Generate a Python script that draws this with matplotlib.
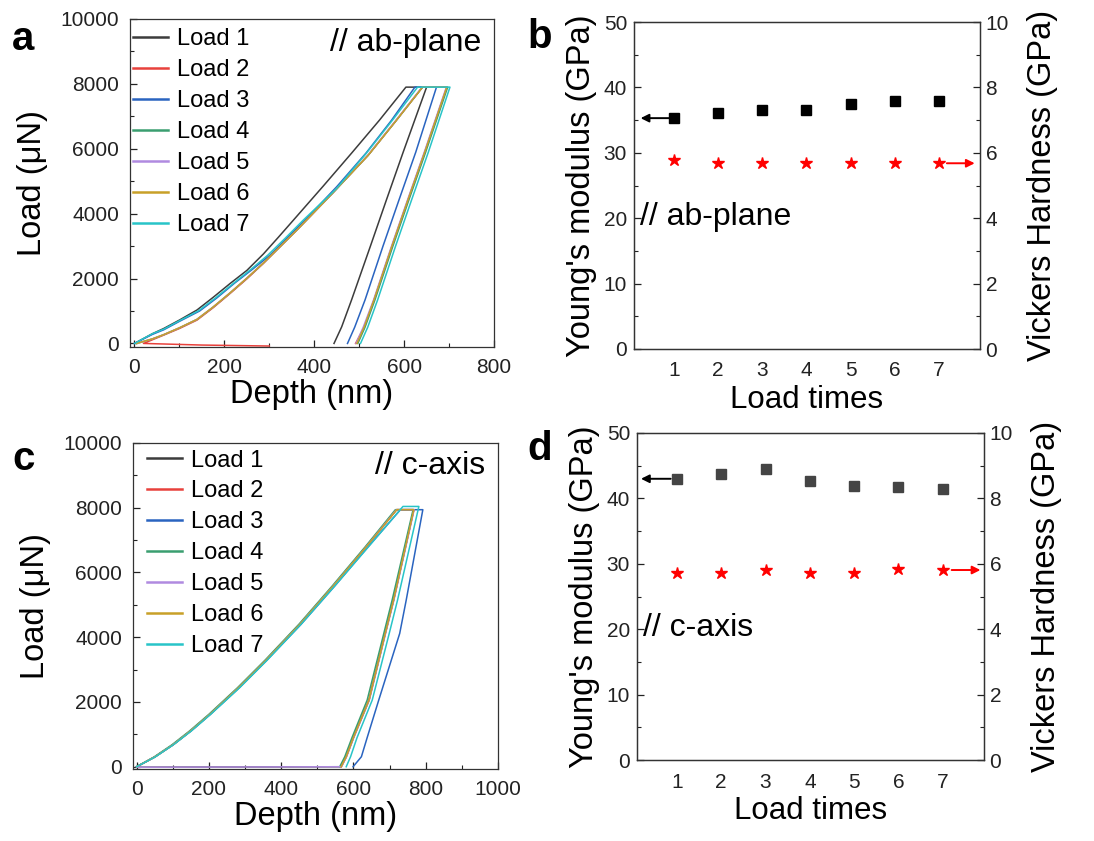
import matplotlib
matplotlib.use("Agg")
import matplotlib.pyplot as plt
from matplotlib.ticker import MultipleLocator

plt.rcParams["font.family"] = ["Liberation Sans", "DejaVu Sans"]
plt.rcParams["axes.linewidth"] = 0.9

W, H = 1094, 841

LOAD_LABELS = ["Load 1", "Load 2", "Load 3", "Load 4", "Load 5", "Load 6", "Load 7"]
LOAD_COLORS = ["#3c3c3c", "#e8413c", "#2a64c0", "#3a9e70", "#b08ae0", "#c8a028", "#28c4c8"]

# load-depth curves, indentation parallel to the ab-plane (nm, uN):
# loading branch, hold at peak load, unloading branch
ab_depth = [
    [0, 20, 40, 65, 100, 139, 175, 213, 250, 287, 320, 354, 420, 483, 545, 604,
     650, 598, 560, 525, 483, 461, 444],
    [300, 150, 20, 65, 100, 139, 175, 213, 250, 287, 361, 440, 520, 580, 641,
     695, 646, 608, 573, 533, 511, 492],
    [0, 20, 40, 65, 100, 145, 183, 222, 262, 302, 340, 380, 450, 515, 572, 624,
     672, 626, 588, 553, 513, 490, 474],
    [5, 40, 65, 100, 139, 175, 213, 250, 287, 361, 440, 520, 580, 641,
     697, 648, 610, 575, 535, 513, 497],
    [5, 40, 65, 100, 139, 175, 213, 250, 287, 361, 440, 519, 579, 640,
     694, 645, 607, 572, 532, 509, 493],
    [5, 40, 65, 100, 139, 175, 213, 250, 287, 361, 440, 520, 580, 641,
     695, 646, 608, 573, 533, 511, 495],
    [0, 20, 40, 65, 100, 143, 181, 220, 258, 297, 336, 376, 450, 516, 574, 630,
     702, 654, 616, 581, 541, 519, 503],
]
ab_load = [
    [0, 150, 300, 460, 720, 1030, 1420, 1850, 2250, 2760, 3270, 3806, 4850, 5864, 6880, 7900,
     7900, 5900, 4400, 3000, 1340, 510, 0],
    [-80, -50, 0, 256, 460, 719, 1100, 1543, 1990, 2469, 3490, 4620, 5800, 6830, 7900,
     7900, 5900, 4400, 3000, 1340, 500, 0],
    [0, 140, 280, 420, 680, 1000, 1400, 1850, 2280, 2725, 3250, 3806, 4830, 5864, 6880, 7900,
     7900, 5900, 4400, 3000, 1340, 500, 0],
    [0, 140, 270, 480, 740, 1120, 1560, 2010, 2480, 3490, 4620, 5800, 6830, 7900,
     7900, 5900, 4400, 3000, 1340, 500, 0],
    [0, 140, 270, 480, 740, 1120, 1560, 2010, 2480, 3490, 4620, 5800, 6830, 7900,
     7900, 5900, 4400, 3000, 1340, 500, 0],
    [0, 140, 270, 480, 740, 1120, 1560, 2010, 2480, 3490, 4620, 5800, 6830, 7900,
     7900, 5900, 4400, 3000, 1340, 500, 0],
    [0, 150, 300, 440, 700, 1010, 1410, 1850, 2270, 2725, 3250, 3806, 4780, 5864, 6880, 7900,
     7900, 5900, 4400, 3000, 1340, 500, 0],
]

# load-depth curves, indentation along the c-axis
c_depth = [
    [0, 50, 101, 150, 203, 282, 359, 452, 544, 636, 719, 767, 711, 688, 643, 600, 580, 566, 0],
    [0, 50, 101, 150, 203, 282, 359, 452, 544, 636, 719, 767, 711, 688, 643, 600, 580, 566],
    [0, 50, 101, 151, 204, 284, 361, 455, 548, 641, 730, 792, 746, 728, 670, 638, 622, 599],
    [0, 48, 98, 147, 200, 279, 356, 449, 541, 633, 716, 765, 707, 684, 638, 596, 576, 562],
    [0, 50, 101, 150, 203, 282, 359, 452, 544, 636, 719, 768, 712, 689, 644, 601, 581, 567, 0],
    [0, 50, 101, 150, 203, 282, 359, 452, 544, 636, 720, 767, 711, 688, 643, 600, 580, 566],
    [0, 51, 102, 152, 205, 285, 362, 455, 548, 642, 737, 781, 722, 699, 652, 610, 592, 580],
]
c_load = [
    [0, 300, 680, 1110, 1620, 2440, 3300, 4400, 5580, 6800, 7940, 7940, 5146, 4117, 2059, 900, 309, 0, -15],
    [0, 300, 680, 1110, 1620, 2440, 3300, 4400, 5580, 6800, 7940, 7940, 5146, 4117, 2059, 900, 309, 0],
    [0, 300, 680, 1110, 1620, 2440, 3300, 4400, 5580, 6800, 7940, 7940, 5146, 4117, 2059, 900, 309, 0],
    [0, 300, 680, 1110, 1620, 2440, 3300, 4400, 5580, 6800, 7940, 7940, 5146, 4117, 2059, 900, 309, 0],
    [0, 300, 680, 1110, 1620, 2440, 3300, 4400, 5580, 6800, 7940, 7940, 5146, 4117, 2059, 900, 309, 0, -15],
    [0, 300, 680, 1110, 1620, 2440, 3300, 4400, 5580, 6800, 7940, 7940, 5146, 4117, 2059, 900, 309, 0],
    [0, 300, 680, 1110, 1620, 2440, 3300, 4400, 5580, 6800, 8040, 8040, 5146, 4117, 2059, 900, 309, 0],
]

load_times = [1, 2, 3, 4, 5, 6, 7]
ab_modulus = [35.3, 36.1, 36.6, 36.5, 37.4, 37.9, 37.9]
ab_hardness = [5.77, 5.68, 5.70, 5.68, 5.68, 5.68, 5.68]
c_modulus = [43.0, 43.7, 44.5, 42.7, 41.9, 41.7, 41.5]
c_hardness = [5.73, 5.73, 5.81, 5.71, 5.71, 5.84, 5.81]

TICK_FS = 15
LABEL_FS = 23.5
TAG_FS = 23
INK = "#222222"


def rect(left, top, right, bottom):
    return [left / W, 1 - bottom / H, (right - left) / W, (bottom - top) / H]


def style(ax, right_ticks=False, pad=6):
    ax.tick_params(which="both", direction="in", colors=INK, labelsize=TICK_FS,
                   top=False, right=right_ticks)
    ax.tick_params(which="major", length=5, width=0.9, pad=pad)
    ax.tick_params(which="minor", length=3, width=0.8)
    for sp in ax.spines.values():
        sp.set_color("#333333")


def curves_panel(ax, depths, loads, xmax, tag, leg_x, leg_y):
    for dep, ld, col, lab in zip(depths, loads, LOAD_COLORS, LOAD_LABELS):
        ax.plot(dep, ld, color=col, lw=1.1, label=lab)
    ax.set_xlim(-10, xmax)
    ax.set_ylim(-110, 10000)
    ax.xaxis.set_major_locator(MultipleLocator(200))
    ax.xaxis.set_minor_locator(MultipleLocator(100))
    ax.yaxis.set_major_locator(MultipleLocator(2000))
    ax.yaxis.set_minor_locator(MultipleLocator(1000))
    style(ax, pad=8)
    ax.set_xlabel("Depth (nm)", fontsize=LABEL_FS, labelpad=1)
    ax.set_ylabel("Load (\u03bcN)", fontsize=LABEL_FS, labelpad=9)
    leg = ax.legend(loc="upper left", bbox_to_anchor=(leg_x, leg_y), frameon=False,
                    fontsize=17, handlelength=1.5, handletextpad=0.35,
                    labelspacing=0.38, borderaxespad=0, borderpad=0)
    for line in leg.get_lines():
        line.set_linewidth(1.8)
    ax.text(0.966, 0.928, tag, transform=ax.transAxes, ha="right", va="center",
            fontsize=TAG_FS)


def props_panel(ax, modulus, hardness, sq_color, tag, arrow_l, arrow_r):
    ax.plot(load_times, modulus, "s", color=sq_color, ms=7.8, ls="none")
    ax.set_xlim(0.1, 7.93)
    ax.set_ylim(0, 50)
    ax.set_xticks(load_times)
    ax.yaxis.set_major_locator(MultipleLocator(10))
    ax.yaxis.set_minor_locator(MultipleLocator(5))
    style(ax, pad=5)
    ax.tick_params(axis="x", which="major", length=0, pad=9)
    ax.set_xlabel("Load times", fontsize=22.5, labelpad=3)
    ax.set_ylabel("Young's modulus (GPa)", fontsize=LABEL_FS, labelpad=5)
    ax.text(0.018, 20.2, tag, transform=ax.get_yaxis_transform(), ha="left",
            va="center", fontsize=TAG_FS)
    ax.annotate("", xy=(arrow_l[0], modulus[0]), xytext=(arrow_l[1], modulus[0]),
                arrowprops=dict(arrowstyle="-|>", color="black", lw=1.4,
                                mutation_scale=12, shrinkA=0, shrinkB=0))

    ax2 = ax.twinx()
    ax2.plot(load_times, hardness, "*", color="#ff0000", ms=9, ls="none")
    ax2.set_ylim(0, 10)
    ax2.yaxis.set_major_locator(MultipleLocator(2))
    ax2.yaxis.set_minor_locator(MultipleLocator(1))
    style(ax2, right_ticks=True, pad=4)
    ax2.tick_params(axis="y", which="both", left=False, labelleft=False,
                    right=True, labelright=True)
    ax2.set_ylabel("Vickers Hardness (GPa)", fontsize=LABEL_FS, labelpad=13)
    ax2.annotate("", xy=(arrow_r[1], hardness[-1]), xytext=(arrow_r[0], hardness[-1]),
                 arrowprops=dict(arrowstyle="-|>", color="#ff0000", lw=1.4,
                                 mutation_scale=12, shrinkA=0, shrinkB=0))


fig = plt.figure(figsize=(W / 100, H / 100), dpi=100)

ax_a = fig.add_axes(rect(130, 19, 494, 347))
curves_panel(ax_a, ab_depth, ab_load, 800, "// ab-plane", 0.008, 0.972)

ax_b = fig.add_axes(rect(634, 22, 980, 349))
props_panel(ax_b, ab_modulus, ab_hardness, "black", "// ab-plane", (0.25, 0.89), (7.18, 7.81))

ax_c = fig.add_axes(rect(133, 443, 498, 769))
curves_panel(ax_c, c_depth, c_load, 1000, "// c-axis", 0.038, 0.98)
ax_c.set_ylim(-70, 10000)

ax_d = fig.add_axes(rect(637, 433, 984, 760))
props_panel(ax_d, c_modulus, c_hardness, "#444444", "// c-axis", (0.19, 0.86), (7.2, 7.85))

for letter, x, y in [("a", 12, 50), ("b", 527, 48), ("c", 12, 470), ("d", 527, 460)]:
    fig.text(x / W, 1 - y / H, letter, fontsize=29, fontweight="bold",
             ha="left", va="baseline")

fig.savefig("out.png", dpi=100)
